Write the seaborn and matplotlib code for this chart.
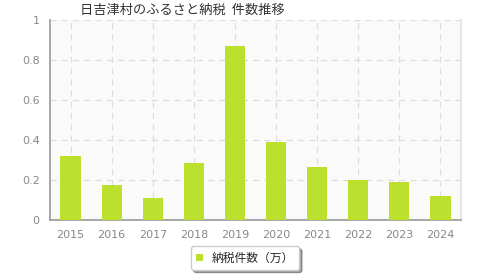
import matplotlib
matplotlib.use("Agg")
import matplotlib.pyplot as plt
import seaborn as sns
import pandas as pd

years = ["2015", "2016", "2017", "2018", "2019", "2020", "2021", "2022", "2023", "2024"]
counts = [0.32, 0.175, 0.11, 0.285, 0.87, 0.39, 0.265, 0.20, 0.19, 0.12]
yticks = [0, 0.2, 0.4, 0.6, 0.8, 1]
ytick_labels = ["0", "0.2", "0.4", "0.6", "0.8", "1"]
title = "日吉津村のふるさと納税  件数推移"
series_name = "納税件数（万）"

sns.set_theme(style="white")
plt.rcParams['font.family'] = ['Noto Sans CJK JP', 'DejaVu Sans']

df = pd.DataFrame({"year": years, "count": counts})

fig = plt.figure(figsize=(4.8, 2.8), dpi=100)
ax = fig.add_axes([50/480, 1-220/280, 411/480, 200/280])
ax.set_facecolor("#FAFAFA")

sns.barplot(data=df, x="year", y="count", color="#BBE02E", width=0.49,
            saturation=1, ax=ax, label=series_name, zorder=3, linewidth=0)

ax.set_ylim(0, 1)
ax.set_xlim(-0.5, len(years) - 0.5)
ax.set_yticks(yticks)
ax.set_yticklabels(ytick_labels)
ax.set_xlabel("")
ax.set_ylabel("")

ax.grid(True, axis="both", color="#DDDDDD", linestyle=(0, (5, 4)), linewidth=0.9, zorder=0)
ax.set_axisbelow(True)

ax.spines["top"].set_visible(False)
ax.spines["right"].set_color("#E6E6E6")
ax.spines["right"].set_linewidth(1.5)
for s in ["left", "bottom"]:
    ax.spines[s].set_color("#999999")
    ax.spines[s].set_linewidth(1.2)

ax.tick_params(axis="both", colors="#999999", labelsize=8, length=4, width=1, direction="out")
ax.tick_params(axis="both", labelcolor="#888888")
for lab in ax.get_xticklabels() + ax.get_yticklabels():
    lab.set_family(["DejaVu Sans"])

fig.text(80/480, 1-10/280, title, fontsize=9.5, color="#333333", va="center", ha="left")

leg = ax.legend(loc="center", bbox_to_anchor=(245/480, 1-258/280), bbox_transform=fig.transFigure,
                frameon=True, fancybox=True, shadow=True, fontsize=8.5, handlelength=0.6,
                handleheight=0.6, borderpad=0.45, handletextpad=0.7)
leg.get_frame().set_edgecolor("#CCCCCC")
leg.get_frame().set_facecolor("white")

fig.savefig("out.png", dpi=100)
